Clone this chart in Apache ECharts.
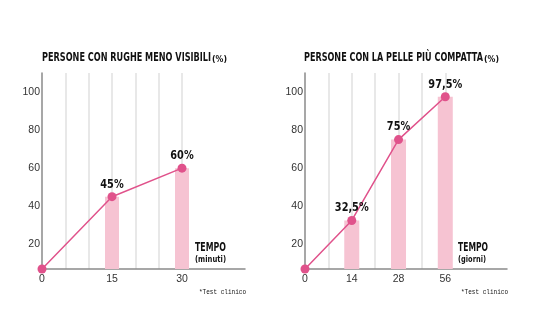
<!DOCTYPE html>
<html>
<head>
<meta charset="utf-8">
<script src="https://cdn.jsdelivr.net/npm/echarts@6/dist/echarts.min.js"></script>
<style>
  html, body { margin: 0; padding: 0; background: #fff; }
  #chart { width: 533px; height: 333px; }
</style>
</head>
<body>
<div id="chart"></div>
<script>
// Left panel: wrinkles (minutes)
const minutes = [0, 15, 30];
const wrinkleValues = [7, 45, 60];      // first point sits on the baseline
// Right panel: firmness (days, evenly spaced on the axis)
const days = ['0', '14', '28', '56'];
const firmValues = [7, 32.5, 75, 97.5];
// Shared y tick labels
const yTicks = [20, 40, 60, 80, 100];

const PINK = '#e0528b';
const BAR = '#f6c3d2';
const AXIS = '#8a8a8a';
const GRIDLINE = '#e0e0e0';
const HEAVY = "'DejaVu Sans'";

const fmtPct = v => String(v).replace('.', ',') + '%';

// horizontal squeeze so a bold face reads like a condensed display font
const measureCtx = document.createElement('canvas').getContext('2d');
function fitScale(text, font, width) {
  measureCtx.font = font;
  return width / measureCtx.measureText(text).width;
}
function squeezed(text, font, x, y, width, align, vAlign) {
  return {
    type: 'text', x: x, y: y, scaleX: fitScale(text, font, width), z: 10,
    style: { text: text, font: font, fill: '#111', align: align || 'left', verticalAlign: vAlign || 'middle' }
  };
}

function guideLines(xs) {
  return {
    silent: true, symbol: 'none', animation: false, z: 0,
    label: { show: false },
    lineStyle: { color: GRIDLINE, width: 1.5, type: 'solid' },
    data: xs.map(x => ({ xAxis: x }))
  };
}

const yAxisBase = {
  type: 'value', min: 7, max: 110,
  axisLine: { show: true, lineStyle: { color: AXIS, width: 1.5 } },
  axisTick: { show: false },
  splitLine: { show: false },
  axisLabel: { customValues: yTicks, color: '#333', fontSize: 10.5, margin: 2, fontFamily: 'Liberation Sans' }
};
const xAxisBase = {
  type: 'value', min: 0,
  axisLine: { show: true, lineStyle: { color: AXIS, width: 1.5 } },
  axisTick: { show: false },
  splitLine: { show: false },
  axisLabel: { color: '#333', fontSize: 10.5, margin: 5, fontFamily: 'Liberation Sans' }
};

const chart = echarts.init(document.getElementById('chart'), null, { renderer: 'canvas' });
chart.setOption({
  animation: false,
  backgroundColor: '#fff',
  grid: [
    { left: 42, top: 73, width: 203, height: 196 },
    { left: 305, top: 73, width: 202, height: 196 }
  ],
  xAxis: [
    Object.assign({}, xAxisBase, { gridIndex: 0, max: 43.5,
      axisLabel: Object.assign({}, xAxisBase.axisLabel, { customValues: minutes }) }),
    Object.assign({}, xAxisBase, { gridIndex: 1, max: 4.32,
      axisLabel: Object.assign({}, xAxisBase.axisLabel, {
        customValues: days.map((d, i) => i), formatter: v => days[v] }) })
  ],
  yAxis: [
    Object.assign({}, yAxisBase, { gridIndex: 0 }),
    Object.assign({}, yAxisBase, { gridIndex: 1 })
  ],
  series: [
    // guide lines live on their own empty series so they stay behind the bars
    { type: 'line', xAxisIndex: 0, yAxisIndex: 0, z: 1, data: [],
      markLine: guideLines([5, 10, 15, 20, 25, 30]) },
    { type: 'line', xAxisIndex: 1, yAxisIndex: 1, z: 1, data: [],
      markLine: guideLines([0.5, 1, 1.5, 2, 2.5, 3]) },
    { type: 'bar', xAxisIndex: 0, yAxisIndex: 0, barWidth: 14, z: 3,
      itemStyle: { color: BAR },
      data: minutes.map((m, i) => [m, wrinkleValues[i]]) },
    { type: 'line', xAxisIndex: 0, yAxisIndex: 0, z: 4,
      symbol: 'circle', symbolSize: 9,
      lineStyle: { color: PINK, width: 1.5 }, itemStyle: { color: PINK },
      data: minutes.map((m, i) => [m, wrinkleValues[i]]) },
    { type: 'bar', xAxisIndex: 1, yAxisIndex: 1, barWidth: 15, z: 3,
      itemStyle: { color: BAR },
      data: days.map((d, i) => [i, firmValues[i]]) },
    { type: 'line', xAxisIndex: 1, yAxisIndex: 1, z: 4,
      symbol: 'circle', symbolSize: 9,
      lineStyle: { color: PINK, width: 1.5 }, itemStyle: { color: PINK },
      data: days.map((d, i) => [i, firmValues[i]]) }
  ]
});

// Value labels above each point, placed through the axes' own scales
const LABEL_FONT = 'bold 13px ' + HEAVY;
const LABEL_SQUEEZE = 0.75;
function valueLabels(gridIndex, xs, vals) {
  return vals.map((v, i) => {
    if (i === 0) return null;
    const p = chart.convertToPixel({ gridIndex: gridIndex }, [xs[i], v]);
    return {
      type: 'text', x: p[0], y: p[1] - 6, scaleX: LABEL_SQUEEZE, z: 10,
      style: { text: fmtPct(v), font: LABEL_FONT, fill: '#111', align: 'center', verticalAlign: 'bottom' }
    };
  }).filter(Boolean);
}

const TITLE_FONT = 'bold 13px ' + HEAVY;
const SMALL_FONT = 'bold 8px ' + HEAVY;
const AXIS_TITLE_FONT = 'bold 11.5px ' + HEAVY;
const UNIT_FONT = 'bold 9.5px ' + HEAVY;
const NOTE_FONT = "6.5px 'Liberation Mono', monospace";

chart.setOption({
  graphic: [].concat(
    valueLabels(0, minutes, wrinkleValues),
    valueLabels(1, days.map((d, i) => i), firmValues),
    [
      squeezed('PERSONE CON RUGHE MENO VISIBILI', TITLE_FONT, 42, 58, 169),
      squeezed('(%)', SMALL_FONT, 212, 59.5, 15),
      squeezed('PERSONE CON LA PELLE PIÙ COMPATTA', TITLE_FONT, 304, 58, 179),
      squeezed('(%)', SMALL_FONT, 484, 59.5, 15),
      squeezed('TEMPO', AXIS_TITLE_FONT, 195, 248.5, 31),
      squeezed('(minuti)', UNIT_FONT, 195, 260, 31),
      squeezed('TEMPO', AXIS_TITLE_FONT, 458, 248.5, 30),
      squeezed('(giorni)', UNIT_FONT, 458, 260, 28),
      squeezed('*Test clinico', NOTE_FONT, 199, 292, 47),
      squeezed('*Test clinico', NOTE_FONT, 461, 292, 47)
    ]
  )
});
</script>
</body>
</html>
